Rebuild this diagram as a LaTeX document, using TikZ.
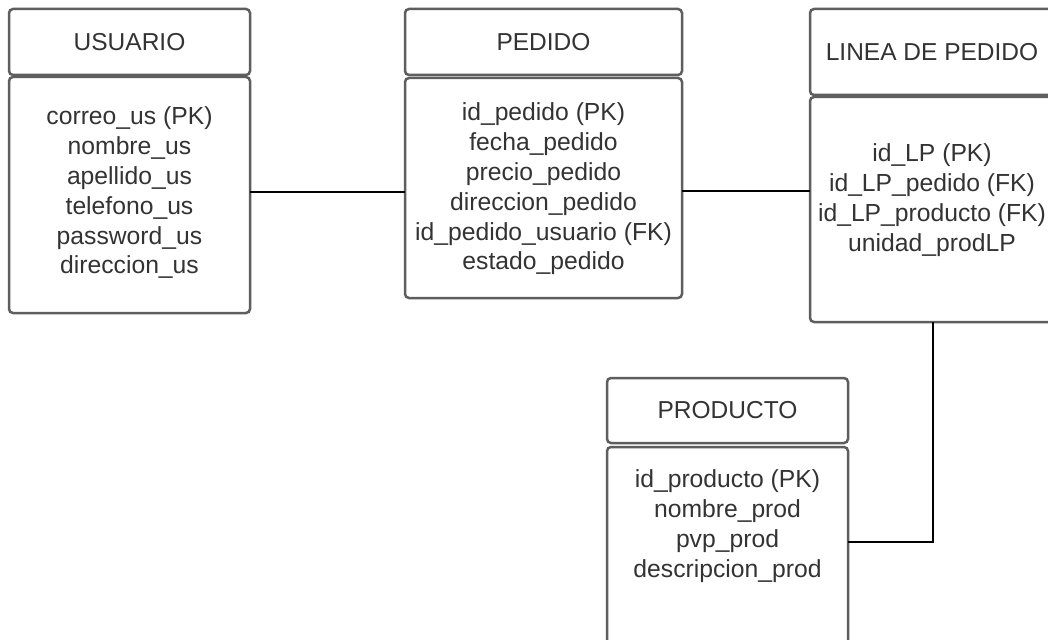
\documentclass[tikz,border=0pt]{standalone}
\usepackage{fontspec}
\setmainfont{Liberation Sans}
\usepackage{tikz}
\usetikzlibrary{positioning,calc}
\definecolor{boxgray}{HTML}{5E5E5E}
\definecolor{txtgray}{HTML}{333333}
\tikzset{
  tablehead/.style={draw=boxgray, line width=2.5pt, rounded corners=4pt, fill=white,
    inner sep=0pt, outer sep=0pt, text=txtgray, font=\fontsize{24.5}{30}\selectfont},
  tablebody/.style={draw=boxgray, line width=2.5pt, rounded corners=4pt, fill=white,
    inner sep=0pt, outer sep=0pt},
  fieldlist/.style={align=center, text=txtgray, inner sep=0pt,
    font=\fontsize{24.7}{29.8}\selectfont},
  rel/.style={draw=black, line width=2pt}
}
\begin{document}
\begin{tikzpicture}[x=1pt, y=-1pt]
\useasboundingbox (0,0) rectangle (1048,639);
\clip (0,0) rectangle (1048,639);
\fill[white] (0,0) rectangle (1048,639);

% USUARIO
\node[tablehead, minimum width=241pt, minimum height=66pt] (usuarioT) at (129.5,42) {USUARIO};
\node[tablebody, minimum width=241pt, minimum height=236pt] (usuarioB) at (129.5,195) {};
\node[fieldlist] (usuarioF) at (129.5,193) {correo\_us (PK)\\nombre\_us\\apellido\_us\\telefono\_us\\password\_us\\direccion\_us};

% PEDIDO
\node[tablehead, minimum width=277pt, minimum height=66pt] (pedidoT) at (543.5,42) {PEDIDO};
\node[tablebody, minimum width=277pt, minimum height=220pt] (pedidoB) at (543.5,188) {};
\node[fieldlist] (pedidoF) at (543.5,189) {id\_pedido (PK)\\fecha\_pedido\\precio\_pedido\\direccion\_pedido\\id\_pedido\_usuario (FK)\\estado\_pedido};

% LINEA DE PEDIDO
\node[tablehead, minimum width=244pt, minimum height=86pt] (lineaT) at (932,52) {LINEA DE PEDIDO};
\node[tablebody, minimum width=244pt, minimum height=225pt] (lineaB) at (932,209.5) {};
\node[fieldlist] (lineaF) at (932,200) {id\_LP (PK)\\id\_LP\_pedido (FK)\\id\_LP\_producto (FK)\\unidad\_prodLP};

% PRODUCTO
\node[tablehead, minimum width=241pt, minimum height=65pt] (productoT) at (727.5,410.5) {PRODUCTO};
\node[tablebody, minimum width=241pt, minimum height=218pt] (productoB) at (727.5,556) {};
\node[fieldlist] (productoF) at (727.5,526) {id\_producto (PK)\\nombre\_prod\\pvp\_prod\\descripcion\_prod};

% relaciones
\coordinate (j1) at (0,192);
\coordinate (j2) at (0,191);
\coordinate (lpTurn) at (933,542);
\draw[rel] (usuarioB.east |- j1) -- (pedidoB.west |- j1);
\draw[rel] (pedidoB.east |- j2) -- (lineaB.west |- j2);
\draw[rel] (lineaB.south -| lpTurn) |- (productoB.east |- lpTurn);
\end{tikzpicture}
\end{document}
